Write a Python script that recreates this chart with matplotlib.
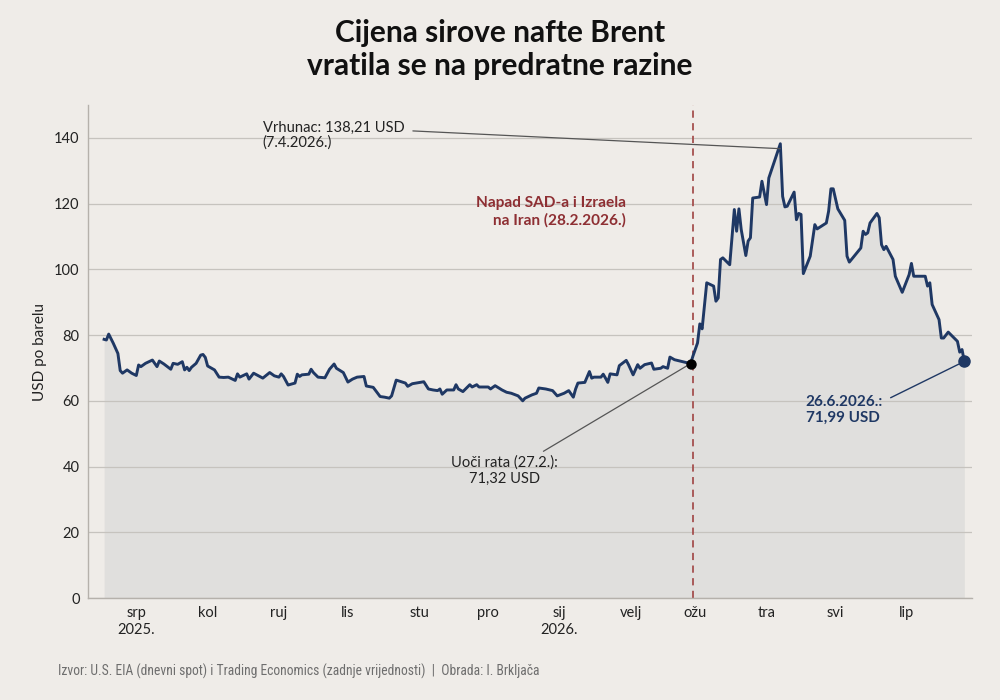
import matplotlib
matplotlib.use("Agg")
import matplotlib.pyplot as plt
import matplotlib.font_manager as fm
import pandas as pd

plt.rcParams["font.family"] = ["Lato", "DejaVu Sans"]

# Brent, USD po barelu (očitano s grafikona)
dates = [
    "2025-06-17", "2025-06-18", "2025-06-19", "2025-06-21", "2025-06-23", "2025-06-24",
    "2025-06-25", "2025-06-27", "2025-06-29", "2025-07-01", "2025-07-02", "2025-07-03",
    "2025-07-05", "2025-07-08", "2025-07-10", "2025-07-11", "2025-07-13", "2025-07-16",
    "2025-07-17", "2025-07-19", "2025-07-21", "2025-07-22", "2025-07-23", "2025-07-24",
    "2025-07-25", "2025-07-27", "2025-07-29", "2025-07-30", "2025-07-31", "2025-08-01",
    "2025-08-04", "2025-08-06", "2025-08-08", "2025-08-10", "2025-08-13", "2025-08-14",
    "2025-08-15", "2025-08-18", "2025-08-19", "2025-08-21", "2025-08-25", "2025-08-28",
    "2025-08-30", "2025-09-01", "2025-09-02", "2025-09-03", "2025-09-05", "2025-09-08",
    "2025-09-09", "2025-09-10", "2025-09-11", "2025-09-14", "2025-09-15", "2025-09-16",
    "2025-09-18", "2025-09-21", "2025-09-23", "2025-09-25", "2025-09-26", "2025-09-29",
    "2025-10-01", "2025-10-03", "2025-10-05", "2025-10-08", "2025-10-09", "2025-10-12",
    "2025-10-15", "2025-10-17", "2025-10-19", "2025-10-20", "2025-10-22", "2025-10-25",
    "2025-10-26", "2025-10-27", "2025-10-29", "2025-11-03", "2025-11-05", "2025-11-07",
    "2025-11-09", "2025-11-10", "2025-11-11", "2025-11-13", "2025-11-16", "2025-11-17",
    "2025-11-18", "2025-11-20", "2025-11-23", "2025-11-24", "2025-11-26", "2025-11-27",
    "2025-12-01", "2025-12-02", "2025-12-04", "2025-12-07", "2025-12-09", "2025-12-11",
    "2025-12-14", "2025-12-16", "2025-12-17", "2025-12-20", "2025-12-22", "2025-12-23",
    "2025-12-26", "2025-12-29", "2025-12-31", "2026-01-03", "2026-01-05", "2026-01-07",
    "2026-01-08", "2026-01-09", "2026-01-12", "2026-01-14", "2026-01-15", "2026-01-16",
    "2026-01-19", "2026-01-20", "2026-01-21", "2026-01-22", "2026-01-23", "2026-01-26",
    "2026-01-27", "2026-01-30", "2026-01-31", "2026-02-02", "2026-02-04", "2026-02-05",
    "2026-02-07", "2026-02-10", "2026-02-11", "2026-02-14", "2026-02-15", "2026-02-17",
    "2026-02-18", "2026-02-20", "2026-02-23", "2026-02-27", "2026-02-28", "2026-03-02",
    "2026-03-03", "2026-03-04", "2026-03-06", "2026-03-09", "2026-03-10", "2026-03-11",
    "2026-03-12", "2026-03-13", "2026-03-16", "2026-03-18", "2026-03-19", "2026-03-20",
    "2026-03-21", "2026-03-23", "2026-03-24", "2026-03-25", "2026-03-26", "2026-03-29",
    "2026-03-30", "2026-03-31", "2026-04-01", "2026-04-02", "2026-04-07", "2026-04-08",
    "2026-04-09", "2026-04-10", "2026-04-13", "2026-04-14", "2026-04-15", "2026-04-16",
    "2026-04-17", "2026-04-20", "2026-04-22", "2026-04-23", "2026-04-27", "2026-04-28",
    "2026-04-29", "2026-04-30", "2026-05-02", "2026-05-05", "2026-05-06", "2026-05-07",
    "2026-05-12", "2026-05-13", "2026-05-14", "2026-05-15", "2026-05-16", "2026-05-19",
    "2026-05-20", "2026-05-21", "2026-05-22", "2026-05-23", "2026-05-26", "2026-05-27",
    "2026-05-30", "2026-06-02", "2026-06-03", "2026-06-04", "2026-06-08", "2026-06-09",
    "2026-06-10", "2026-06-11", "2026-06-12", "2026-06-15", "2026-06-16", "2026-06-17",
    "2026-06-19", "2026-06-23", "2026-06-24", "2026-06-25", "2026-06-26",
]
prices = [
    78.7, 78.5, 80.3, 77.5, 74.4, 69.2,
    68.4, 69.4, 68.4, 67.7, 70.9, 70.4,
    71.4, 72.4, 70.4, 72.1, 71.2, 69.6,
    71.4, 71.1, 71.9, 69.4, 70.2, 69.2,
    70.2, 71.4, 73.9, 74.1, 73.2, 70.6,
    69.4, 67.2, 67.1, 67.2, 66.2, 68.2,
    67.2, 68.2, 66.6, 68.4, 66.9, 68.6,
    67.6, 67.2, 68.2, 67.4, 64.8, 65.4,
    68.1, 67.4, 67.9, 68.1, 69.6, 68.6,
    67.2, 67.0, 69.6, 71.2, 69.9, 68.6,
    65.7, 66.6, 67.2, 67.4, 64.5, 64.1,
    61.3, 61.1, 60.8, 61.5, 66.3, 65.6,
    65.4, 64.4, 65.2, 65.8, 63.6, 63.3,
    63.1, 63.6, 62.0, 63.3, 63.3, 64.9,
    63.6, 62.8, 64.9, 64.2, 64.9, 64.2,
    64.2, 63.6, 64.6, 63.3, 62.6, 62.3,
    61.5, 60.0, 60.8, 61.8, 62.3, 63.9,
    63.6, 63.1, 61.5, 62.3, 63.1, 61.1,
    63.6, 65.4, 65.6, 68.9, 66.9, 67.2,
    67.2, 68.1, 66.9, 65.6, 68.2, 67.9,
    70.7, 72.3, 71.0, 67.9, 71.0, 69.9,
    71.0, 71.5, 69.6, 69.9, 70.4, 69.9,
    73.3, 72.5, 72.0, 71.32, 73.6, 77.6,
    83.4, 81.9, 95.9, 94.9, 90.3, 91.3,
    103.0, 103.5, 101.4, 118.2, 111.6, 118.4,
    112.1, 104.2, 108.6, 109.6, 121.7, 122.0,
    126.8, 123.3, 119.7, 127.8, 138.21, 122.2,
    119.0, 119.2, 123.5, 115.1, 117.0, 116.7,
    98.7, 104.0, 113.6, 112.3, 114.1, 117.7,
    124.5, 124.5, 118.4, 114.9, 104.0, 102.2,
    106.5, 111.6, 110.6, 111.1, 114.1, 117.0,
    115.7, 107.5, 106.0, 107.0, 103.0, 97.9,
    93.0, 98.4, 101.8, 97.9, 97.9, 97.9,
    94.9, 95.9, 89.3, 84.7, 79.1, 79.1,
    80.9, 78.1, 74.8, 75.6, 71.99,
]

month_ticks = ["2025-07-01", "2025-08-01", "2025-09-01", "2025-10-01", "2025-11-01",
               "2025-12-01", "2026-01-01", "2026-02-01", "2026-03-01", "2026-04-01",
               "2026-05-01", "2026-06-01"]
month_labels = ["srp\n2025.", "kol", "ruj", "lis", "stu", "pro", "sij\n2026.",
                "velj", "ožu", "tra", "svi", "lip"]

attack_date = "2026-02-28"
prewar_date, prewar_price = "2026-02-27", 71.32
peak_date, peak_price = "2026-04-07", 138.21
last_date, last_price = "2026-06-26", 71.99

BG = "#efece8"
NAVY = "#1f3864"
RED = "#8e2f33"

x = pd.to_datetime(dates)

fig = plt.figure(figsize=(10, 7), dpi=100, facecolor=BG)
ax = fig.add_axes([0.088, 0.1457, 0.884, 0.7043])
ax.set_facecolor(BG)

ax.fill_between(x, prices, 0, color="#e0dfdd", lw=0, zorder=0.3)
ax.plot(x, prices, color=NAVY, lw=2.1, zorder=3, solid_joinstyle="round")

ax.axvline(pd.Timestamp(attack_date), color="#a5504f", lw=1.3,
           ls=(0, (4, 3)), zorder=2.5)

ax.set_ylim(0, 150)
ax.set_yticks(range(0, 141, 20))
ax.set_xlim(pd.Timestamp("2025-06-10"), pd.Timestamp("2026-06-29 08:00"))
ax.set_xticks(pd.to_datetime(month_ticks))
ax.set_xticklabels(month_labels)
ax.set_axisbelow(True)
ax.grid(axis="y", color="#c6c3be", lw=0.9)
ax.grid(axis="x", visible=False)
ax.tick_params(length=0, labelsize=10.5, colors="#222222")
ax.tick_params(axis="y", pad=6)
ax.tick_params(axis="x", pad=6)
for s in ("top", "right"):
    ax.spines[s].set_visible(False)
for s in ("left", "bottom"):
    ax.spines[s].set_color("#b5b1ab")
    ax.spines[s].set_linewidth(1.0)
ax.set_ylabel("USD po barelu", fontsize=11, color="#222222", labelpad=5)

# markeri
ax.plot(pd.Timestamp(prewar_date), prewar_price, "o", color="black", ms=6.5, zorder=5)
ax.plot(pd.Timestamp(last_date), last_price, "o", color=NAVY, ms=8, zorder=5)

# napomene
ax.annotate("Vrhunac: 138,21 USD\n(7.4.2026.)",
            xy=(pd.Timestamp(peak_date), peak_price - 1.5),
            xytext=(pd.Timestamp("2025-08-25"), 140.8),
            ha="left", va="center", fontsize=10.6, color="#222222", linespacing=1.1,
            arrowprops=dict(arrowstyle="-", color="#555555", lw=0.9,
                            relpos=(1, 0.66), shrinkA=4, shrinkB=0))

ax.text(pd.Timestamp("2026-01-30"), 117.5, "Napad SAD-a i Izraela\nna Iran (28.2.2026.)",
        ha="right", va="center", fontsize=11.1, color=RED, fontweight="bold",
        linespacing=1.3)

ax.annotate("Uoči rata (27.2.):\n71,32 USD",
            xy=(pd.Timestamp(prewar_date), prewar_price),
            xytext=(pd.Timestamp("2025-12-08"), 38.8),
            ha="center", va="center", fontsize=10.6, color="#222222", linespacing=1.15,
            arrowprops=dict(arrowstyle="-", color="#555555", lw=0.9,
                            relpos=(0.8, 1), shrinkA=2, shrinkB=3))

ax.annotate("26.6.2026.:\n71,99 USD",
            xy=(pd.Timestamp(last_date), last_price),
            xytext=(pd.Timestamp("2026-04-18"), 57.2),
            ha="left", va="center", fontsize=11, color=NAVY, fontweight="bold",
            linespacing=1.2,
            arrowprops=dict(arrowstyle="-", color=NAVY, lw=1.0,
                            relpos=(1, 0.78), shrinkA=4, shrinkB=4))

fig.text(0.5, 0.9295, "Cijena sirove nafte Brent\nvratila se na predratne razine",
         ha="center", va="center", fontsize=21.5, fontweight="bold",
         color="#111111", linespacing=1.22)

# izvor: uži font ako postoji, inače manji Lato
narrow = None
for fam in ("Roboto Condensed", "Open Sans Condensed", "Liberation Sans Narrow"):
    try:
        fm.findfont(fam, fallback_to_default=False)
        narrow = fam
        break
    except ValueError:
        pass
source = "Izvor: U.S. EIA (dnevni spot) i Trading Economics (zadnje vrijednosti)  |  Obrada: I. Brkljača"
if narrow:
    fig.text(0.058, 0.041, source, ha="left", va="center", fontsize=9.8,
             color="#6e6e6e", family=[narrow, "DejaVu Sans"])
else:
    fig.text(0.058, 0.041, source, ha="left", va="center", fontsize=9,
             color="#6e6e6e")

fig.savefig("out.png", dpi=100, facecolor=BG)
